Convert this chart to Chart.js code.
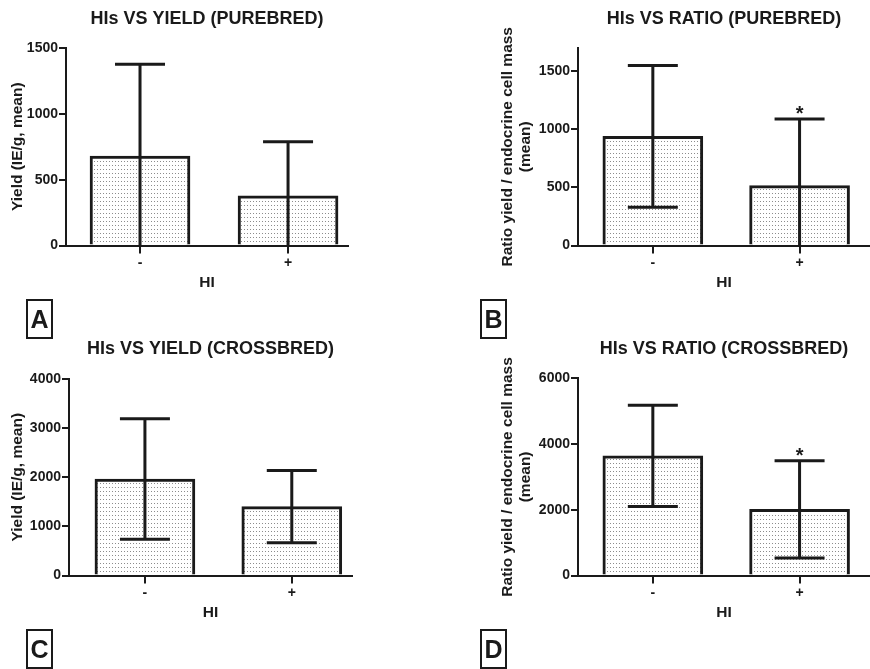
<!DOCTYPE html>
<html>
<head>
<meta charset="utf-8">
<script src="https://cdn.jsdelivr.net/npm/chart.js@4.4.1/dist/chart.umd.min.js"></script>
<style>
    body { margin: 0; background: #fff; width: 870px; height: 669px; position: relative; overflow: hidden; }
    .panel { position: absolute; width: 435px; height: 296px; }
    .tag {
        position: absolute; width: 23px; height: 36px; border: 2px solid #1a1a1a;
        font: bold 25px "Liberation Sans", Arial, sans-serif; color: #1a1a1a;
        text-align: center; line-height: 36px;
    }
</style>
</head>
<body>
<div class="panel" style="left:0;top:0"><canvas id="chartA"></canvas></div>
<div class="panel" style="left:435px;top:0"><canvas id="chartB"></canvas></div>
<div class="panel" style="left:0;top:330px"><canvas id="chartC"></canvas></div>
<div class="panel" style="left:435px;top:330px"><canvas id="chartD"></canvas></div>
<div class="tag" style="left:26px;top:299px">A</div>
<div class="tag" style="left:480px;top:299px">B</div>
<div class="tag" style="left:26px;top:629px">C</div>
<div class="tag" style="left:480px;top:629px">D</div>
<script>
// HI groups
const categories = ['-', '+'];

// A: yield, purebred
const yieldPureMean = [680, 378];
const yieldPureSd = [697, 410];
const yieldPureTicks = [0, 500, 1000, 1500];

// B: ratio, purebred
const ratioPureMean = [940, 515];
const ratioPureSd = [610, 573];
const ratioPureTicks = [0, 500, 1000, 1500];

// C: yield, crossbred
const yieldCrossMean = [1965, 1402];
const yieldCrossSd = [1225, 735];
const yieldCrossTicks = [0, 1000, 2000, 3000, 4000];

// D: ratio, crossbred
const ratioCrossMean = [3640, 2015];
const ratioCrossSd = [1540, 1480];
const ratioCrossTicks = [0, 2000, 4000, 6000];

const ratioSig = ['', '*'];

const INK = '#1a1a1a';
const FONT = '"Liberation Sans", Arial, sans-serif';

// dotted fill like the original graph
function dotPattern() {
    const c = document.createElement('canvas');
    c.width = 3; c.height = 4;
    const g = c.getContext('2d');
    g.fillStyle = '#fff';
    g.fillRect(0, 0, 3, 4);
    g.fillStyle = '#8c8c8c';
    g.fillRect(1, 1, 1, 1);
    return g.createPattern(c, 'repeat');
}

// mean +/- SD whiskers; below zero the line just runs to the axis
const errorBars = {
    id: 'errorBars',
    afterDatasetsDraw(chart, args, opts) {
        const ctx = chart.ctx;
        const y = chart.scales.y;
        const meta = chart.getDatasetMeta(0);
        ctx.save();
        ctx.strokeStyle = INK;
        ctx.lineWidth = 3;
        meta.data.forEach((bar, i) => {
            const m = opts.mean[i], s = opts.sd[i];
            const top = y.getPixelForValue(m + s);
            const low = y.getPixelForValue(Math.max(m - s, 0));
            ctx.beginPath();
            ctx.moveTo(bar.x, low);
            ctx.lineTo(bar.x, top);
            ctx.moveTo(bar.x - 25, top);
            ctx.lineTo(bar.x + 25, top);
            if (m - s > 0) {
                ctx.moveTo(bar.x - 25, low);
                ctx.lineTo(bar.x + 25, low);
            }
            ctx.stroke();
            if (opts.sig && opts.sig[i]) {
                ctx.fillStyle = INK;
                ctx.font = 'bold 20px ' + FONT;
                ctx.textAlign = 'center';
                ctx.textBaseline = 'alphabetic';
                ctx.fillText(opts.sig[i], bar.x, top + 1);
            }
        });
        ctx.restore();
    }
};

// title centred over the plot area, as in the original figure
const panelTitle = {
    id: 'panelTitle',
    afterDraw(chart, args, opts) {
        const ctx = chart.ctx;
        const a = chart.chartArea;
        ctx.save();
        ctx.fillStyle = INK;
        ctx.font = 'bold 18px ' + FONT;
        ctx.textAlign = 'center';
        ctx.textBaseline = 'middle';
        ctx.fillText(opts.text, (a.left + a.right) / 2, opts.y);
        ctx.restore();
    }
};

function renderPanel(id, cfg) {
    const ctx = document.getElementById(id).getContext('2d');
    return new Chart(ctx, {
        type: 'bar',
        data: {
            datasets: [{
                data: cfg.mean.map((v, i) => ({ x: i, y: v })),
                backgroundColor: dotPattern(),
                borderColor: INK,
                borderWidth: 3,
                barThickness: 100
            }]
        },
        options: {
            responsive: true,
            maintainAspectRatio: false,
            animation: false,
            layout: { padding: { left: cfg.padLeft, right: cfg.padRight, top: cfg.padTop, bottom: 0 } },
            plugins: {
                legend: { display: false },
                tooltip: { enabled: false },
                title: { display: false },
                panelTitle: { text: cfg.title, y: 19 },
                errorBars: { mean: cfg.mean, sd: cfg.sd, sig: cfg.sig }
            },
            scales: {
                x: {
                    type: 'linear',
                    offset: false,
                    min: cfg.xMin,
                    max: cfg.xMax,
                    afterBuildTicks: (s) => { s.ticks = categories.map((c, i) => ({ value: i })); },
                    afterFit: (s) => { s.height = 50.5; },
                    ticks: {
                        callback: (v) => categories[v],
                        color: INK,
                        padding: 1,
                        font: { family: FONT, size: 14, weight: 'bold' }
                    },
                    grid: { offset: false, drawOnChartArea: false, drawTicks: true, tickLength: 8, color: INK, lineWidth: 2 },
                    border: { display: true, color: INK, width: 2 },
                    title: {
                        display: true,
                        text: 'HI',
                        color: INK,
                        font: { family: FONT, size: 15.5, weight: 'bold' },
                        padding: { top: 0, bottom: 4 }
                    }
                },
                y: {
                    min: 0,
                    max: cfg.yMax,
                    afterBuildTicks: (s) => { s.ticks = cfg.ticks.map(v => ({ value: v })); },
                    afterFit: (s) => { s.width = cfg.yWidth; },
                    ticks: {
                        callback: (v) => String(v),
                        color: INK,
                        padding: 1,
                        font: { family: FONT, size: 14, weight: 'bold' }
                    },
                    grid: { drawOnChartArea: false, drawTicks: true, tickLength: 7, color: INK, lineWidth: 2 },
                    border: { display: true, color: INK, width: 2 },
                    title: {
                        display: true,
                        text: cfg.yTitle,
                        color: INK,
                        font: { family: FONT, size: 15.5, weight: 'bold' },
                        padding: { top: 4, bottom: 4 }
                    }
                }
            }
        },
        plugins: [errorBars, panelTitle]
    });
}

document.addEventListener('DOMContentLoaded', () => {
    renderPanel('chartA', {
        title: 'HIs VS YIELD (PUREBRED)', yTitle: 'Yield (IE/g, mean)',
        mean: yieldPureMean, sd: yieldPureSd, ticks: yieldPureTicks, yMax: 1500,
        padLeft: 4, yWidth: 62, padRight: 87, padTop: 48, xMin: -0.5, xMax: 1.405
    });
    renderPanel('chartB', {
        title: 'HIs VS RATIO (PUREBRED)', yTitle: ['Ratio yield / endocrine cell mass', '(mean)'],
        mean: ratioPureMean, sd: ratioPureSd, ticks: ratioPureTicks, yMax: 1700, sig: ratioSig,
        padLeft: 59, yWidth: 84, padRight: 0, padTop: 48, xMin: -0.51, xMax: 1.48
    });
    renderPanel('chartC', {
        title: 'HIs VS YIELD (CROSSBRED)', yTitle: 'Yield (IE/g, mean)',
        mean: yieldCrossMean, sd: yieldCrossSd, ticks: yieldCrossTicks, yMax: 4000,
        padLeft: 4, yWidth: 65, padRight: 83, padTop: 49, xMin: -0.517, xMax: 1.41
    });
    renderPanel('chartD', {
        title: 'HIs VS RATIO (CROSSBRED)', yTitle: ['Ratio yield / endocrine cell mass', '(mean)'],
        mean: ratioCrossMean, sd: ratioCrossSd, ticks: ratioCrossTicks, yMax: 6000, sig: ratioSig,
        padLeft: 59, yWidth: 84, padRight: 0, padTop: 48.3, xMin: -0.51, xMax: 1.48
    });
});
</script>
</body>
</html>
